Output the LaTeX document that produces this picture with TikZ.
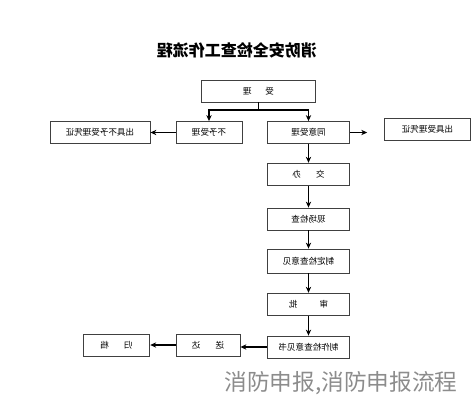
\documentclass[tikz,border=0pt]{standalone}
\usepackage{fontspec}
\usepackage{graphicx}
\usetikzlibrary{arrows.meta}
\newfontfamily\cjk{Noto Sans CJK SC}
\newcommand{\mir}[1]{\reflectbox{#1}}
\begin{document}
\begin{tikzpicture}[x=0.75pt,y=-0.75pt,>={Stealth[length=4.5pt,width=4pt]}]
  \tikzstyle{every node}=[font=\cjk\fontsize{6.4}{7.5}\selectfont]
  \tikzstyle{box}=[draw=black!75,line width=0.6pt,fill=white,minimum width=62pt,minimum height=16.5pt,inner sep=1pt]
  \tikzstyle{arr}=[->,line width=1.1pt]
 \useasboundingbox (0,0) rectangle (476,400);

 \node[draw=none,fill=none] (title) at (237, 50) {\fontsize{12}{14}\selectfont\bfseries\mir{消防安全检查工作流程}};
 \node[box,minimum width=86pt] (shouli) at (258.5, 91) {\mir{受\hspace{1.6em}理}};
 \node[box,minimum width=49.5pt] (buyu) at (209, 132.5) {\mir{不予受理}};
 \node[box,minimum width=75pt] (buyupz) at (100, 132.5) {\mir{出具不予受理凭证}};
 \node[box] (tongyi) at (308.5, 132.5) {\mir{同意受理}};
 \node[box,minimum width=64pt,minimum height=17pt] (tongyipz) at (427.5, 129.5) {\mir{出具受理凭证}};
 \node[box,minimum height=17pt] (jiaoban) at (308.5, 174.5) {\mir{交\hspace{1.8em}办}};
 \node[box] (xianchang) at (308.5, 219) {\mir{现场检查}};
 \node[box,minimum height=18pt] (zhiding) at (308.5, 261) {\mir{制定检查意见}};
 \node[box,minimum height=17pt] (shenpi) at (308.5, 304.5) {\mir{审\hspace{2.6em}批}};
 \node[box] (zhizuo) at (308.5, 347) {\mir{制作检查意见书}};
 \node[box,minimum width=48pt] (songda) at (208, 345) {\mir{送\hspace{1.8em}达}};
 \node[box,minimum width=50pt] (guidang) at (116.5, 345) {\mir{归\hspace{1.8em}档}};
 \node[draw=none,fill=none,text=black!45] (mark) at (341, 383) {\fontsize{17}{19}\selectfont 消防申报,消防申报流程};
 \coordinate (fork) at (258.5, 110);

 \draw [line width=0.8pt] (shouli) -- (fork);
 \draw [arr] (fork) -| (buyu);
 \draw [arr] (fork) -| (tongyi);
 \draw [arr] (buyu) -- (buyupz);
 \draw [arr] (tongyi.east) -- ++(17,0);
 \draw [arr] (tongyi) -- (jiaoban);
 \draw [arr] (jiaoban) -- (xianchang);
 \draw [arr] (xianchang) -- (zhiding);
 \draw [arr] (zhiding) -- (shenpi);
 \draw [arr] (shenpi) -- (zhizuo);
 \draw [arr] (zhizuo.west) -- (songda.east |- zhizuo.west);
 \draw [arr] (songda) -- (guidang);

\end{tikzpicture}
\end{document}
